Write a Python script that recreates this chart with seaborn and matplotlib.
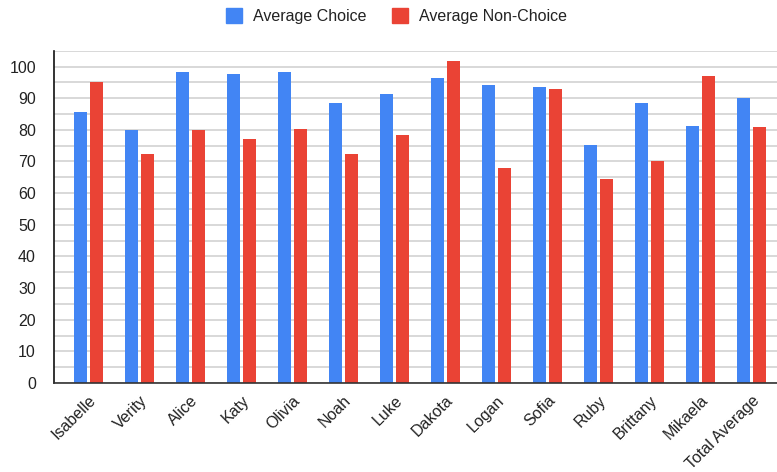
import matplotlib
matplotlib.use("Agg")
import matplotlib.pyplot as plt
from matplotlib.patches import Patch
import seaborn as sns
import pandas as pd

names = ["Isabelle", "Verity", "Alice", "Katy", "Olivia", "Noah", "Luke",
         "Dakota", "Logan", "Sofia", "Ruby", "Brittany", "Mikaela", "Total Average"]
avg_choice = [85.6, 79.8, 98.2, 97.7, 98.2, 88.5, 91.3,
              96.4, 94.3, 93.4, 75.1, 88.5, 81.2, 89.9]
avg_non_choice = [95.0, 72.5, 79.8, 77.2, 80.3, 72.5, 78.5,
                  101.7, 68.0, 93.0, 64.3, 70.3, 96.9, 80.8]
series = ["Average Choice", "Average Non-Choice"]
colors = ["#4285F4", "#EA4335"]

df = pd.DataFrame({
    "name": names * 2,
    "value": avg_choice + avg_non_choice,
    "series": [series[0]] * len(names) + [series[1]] * len(names),
})

sns.set_theme(style="white")
plt.rcParams["font.family"] = ["Liberation Sans", "DejaVu Sans"]

fig = plt.figure(figsize=(7.77, 4.72), dpi=100)
ax = fig.add_axes([0.0695, 0.1886, 0.9305, 0.704])

sns.barplot(data=df, x="name", y="value", hue="series", palette=colors,
            width=0.6, gap=0.15, saturation=1, legend=False, ax=ax,
            errorbar=None, linewidth=0)

ax.set_ylim(0, 105)
ax.set_xlim(-0.676, 13.5)
ax.set_yticks(range(0, 101, 10))
ax.set_yticks(range(5, 106, 10), minor=True)
ax.yaxis.grid(True, which="both", color="#d6d6d6", linewidth=1.3)
ax.set_axisbelow(True)

ax.tick_params(axis="y", which="both", direction="inout", length=12,
               width=1.2, color="#111111", labelsize=11.5, labelcolor="#222222", pad=7)
ax.tick_params(axis="x", length=0, labelsize=11.5, labelcolor="#222222", pad=7)
for lbl in ax.get_xticklabels():
    lbl.set_rotation(45)
    lbl.set_ha("right")
    lbl.set_rotation_mode("anchor")

ax.set_xlabel("")
ax.set_ylabel("")
for side in ["top", "right"]:
    ax.spines[side].set_visible(False)
ax.spines["left"].set_color("#111111")
ax.spines["left"].set_linewidth(1.2)
ax.spines["bottom"].set_color("#333333")
ax.spines["bottom"].set_linewidth(1.2)

handles = [Patch(facecolor=c, edgecolor=c, label=s) for c, s in zip(colors, series)]
fig.legend(handles=handles, loc="center", bbox_to_anchor=(0.51, 0.966), ncol=2,
           frameon=False, fontsize=11.5, handlelength=1.0, handleheight=1.0,
           handletextpad=0.7, columnspacing=1.6, labelcolor="#222222")

fig.savefig("out.png", dpi=100)
